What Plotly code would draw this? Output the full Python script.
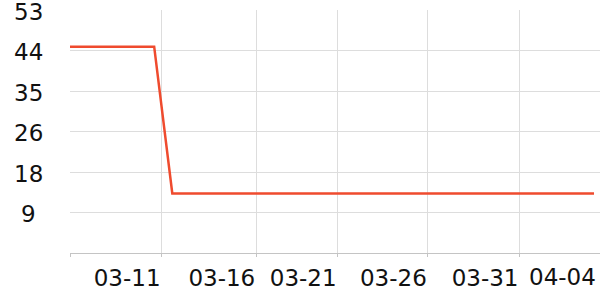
import plotly.graph_objects as go

# Data
dates = ["2024-03-05 18:10", "2024-03-10 12:00", "2024-03-11 12:30", "2024-04-04 06:45"]
values = [45, 45, 13, 13]

# Axis ticks
x_tick_dates = ["2024-03-05 18:10", "2024-03-10 22:00", "2024-03-16 06:00",
                "2024-03-20 20:00", "2024-03-25 22:00", "2024-03-31 02:00"]
x_tick_labels = ["", "03-11", "03-16", "03-21", "03-26", "03-31"]
last_label_date = "2024-04-04 12:00"
last_label = "04-04"
x_range = ["2024-03-05 18:10", "2024-04-04 14:50"]

y_max = 53
y_tick_vals = [0, 53 / 6, 53 / 3, 26.5, 106 / 3, 265 / 6, 53]
y_tick_labels = ["", "9", "18", "26", "35", "44", "53"]

font = dict(family="DejaVu Sans", size=23, color="#111")

fig = go.Figure()
fig.add_trace(go.Scatter(x=dates, y=values, mode="lines",
                         line=dict(color="#ef4b2e", width=2.5),
                         hoverinfo="skip"))

annotations = [dict(x=last_label_date, y=0, xref="x", yref="paper",
                    text=last_label, showarrow=False,
                    xanchor="right", yanchor="top", yshift=-9,
                    font=font)]
for v, t in zip(y_tick_vals, y_tick_labels):
    if t:
        annotations.append(dict(x=-41.5 / 530, y=v, xref="paper", yref="y",
                                text=t, showarrow=False,
                                xanchor="center", yanchor="middle",
                                yshift=-1.5, borderpad=0,
                                font=font))

fig.update_layout(
    width=600, height=300,
    margin=dict(l=70, r=0, t=10, b=47),
    paper_bgcolor="white", plot_bgcolor="white",
    showlegend=False,
    font=font,
    xaxis=dict(
        type="date", range=x_range,
        tickmode="array", tickvals=x_tick_dates, ticktext=x_tick_labels,
        ticklabelposition="outside left", ticklabelstandoff=4,
        showgrid=True, gridcolor="#dddddd", gridwidth=1,
        showline=True, linecolor="#c4c4c4", linewidth=1,
        ticks="outside", ticklen=3, tickcolor="#c4c4c4",
        zeroline=False, tickfont=font,
    ),
    yaxis=dict(
        range=[0, y_max + 1e-9],
        tickmode="array", tickvals=y_tick_vals,
        showticklabels=False,
        showgrid=True, gridcolor="#dddddd", gridwidth=1,
        showline=False, zeroline=False, ticks="",
    ),
    annotations=annotations,
)

fig.write_html("out.html")
